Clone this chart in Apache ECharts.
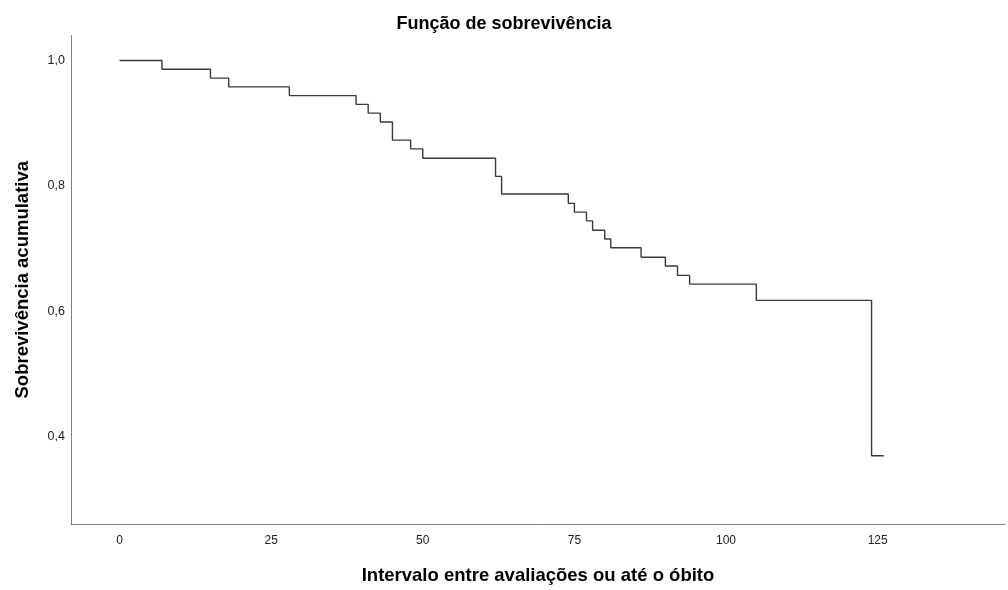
<!DOCTYPE html>
<html>
<head>
<meta charset="utf-8">
<script src="https://cdn.jsdelivr.net/npm/echarts@6/dist/echarts.min.js"></script>
<style>
html,body{margin:0;padding:0;background:#fff;}
#chart{width:1008px;height:590px;}
</style>
</head>
<body>
<div id="chart"></div>
<script>
// Kaplan-Meier step curve: event times and cumulative survival after each event
const times = [0, 7, 15, 18, 28, 39, 41, 43, 45, 48, 50, 62, 63, 74, 75, 77, 78, 80, 81, 86, 90, 92, 94, 105, 124, 126];
const survival = [1.0, 0.986, 0.972, 0.958, 0.944, 0.930, 0.916, 0.902, 0.873, 0.859, 0.844, 0.815, 0.787, 0.772, 0.758, 0.744, 0.729, 0.715, 0.701, 0.686, 0.672, 0.657, 0.643, 0.617, 0.369, 0.369];
const xTickLabels = [0, 25, 50, 75, 100, 125];
const yTickLabels = [0.4, 0.6, 0.8, 1.0];
const titleText = 'Função de sobrevivência';
const xName = 'Intervalo entre avaliações ou até o óbito';
const yName = 'Sobrevivência acumulativa';

const chart = echarts.init(document.getElementById('chart'), null, {renderer: 'canvas'});
const font = 'Liberation Sans, Arial, sans-serif';
const data = times.map((t, i) => [t, survival[i]]);

chart.setOption({
  animation: false,
  backgroundColor: '#ffffff',
  title: {
    text: titleText,
    left: 'center',
    top: 10,
    textStyle: {fontFamily: font, fontSize: 18, fontWeight: 'bold', color: '#000'}
  },
  grid: {left: 71, top: 35.5, right: 0, bottom: 61.5, containLabel: false},
  xAxis: {
    type: 'value',
    min: -8, max: 146, interval: 1,
    name: xName,
    nameLocation: 'middle',
    nameGap: 42,
    nameTextStyle: {fontFamily: font, fontSize: 18.5, fontWeight: 'bold', color: '#000'},
    axisLine: {show: true, onZero: false, lineStyle: {color: '#808080', width: 1}},
    axisTick: {show: false},
    splitLine: {show: false},
    axisLabel: {
      margin: 11,
      fontFamily: font, fontSize: 12, color: '#222',
      formatter: v => xTickLabels.indexOf(Math.round(v)) >= 0 && Math.abs(v - Math.round(v)) < 1e-6 ? String(Math.round(v)) : ''
    }
  },
  yAxis: {
    type: 'value',
    min: 0.26, max: 1.04, interval: 0.02,
    name: yName,
    nameLocation: 'middle',
    nameGap: 39,
    nameRotate: 90,
    nameTextStyle: {fontFamily: font, fontSize: 18.5, fontWeight: 'bold', color: '#000'},
    axisLine: {show: true, onZero: false, lineStyle: {color: '#808080', width: 1}},
    axisTick: {show: false},
    splitLine: {show: false},
    axisLabel: {
      margin: 6,
      fontFamily: font, fontSize: 12.5, color: '#222',
      formatter: v => {
        for (const y of yTickLabels) {
          if (Math.abs(v - y) < 1e-6) return y.toFixed(1).replace('.', ',');
        }
        return '';
      }
    }
  },
  series: [{
    type: 'line',
    step: 'end',
    data: data,
    symbol: 'none',
    lineStyle: {color: '#3a3a3a', width: 1.4},
    silent: true
  }]
});
</script>
</body>
</html>
